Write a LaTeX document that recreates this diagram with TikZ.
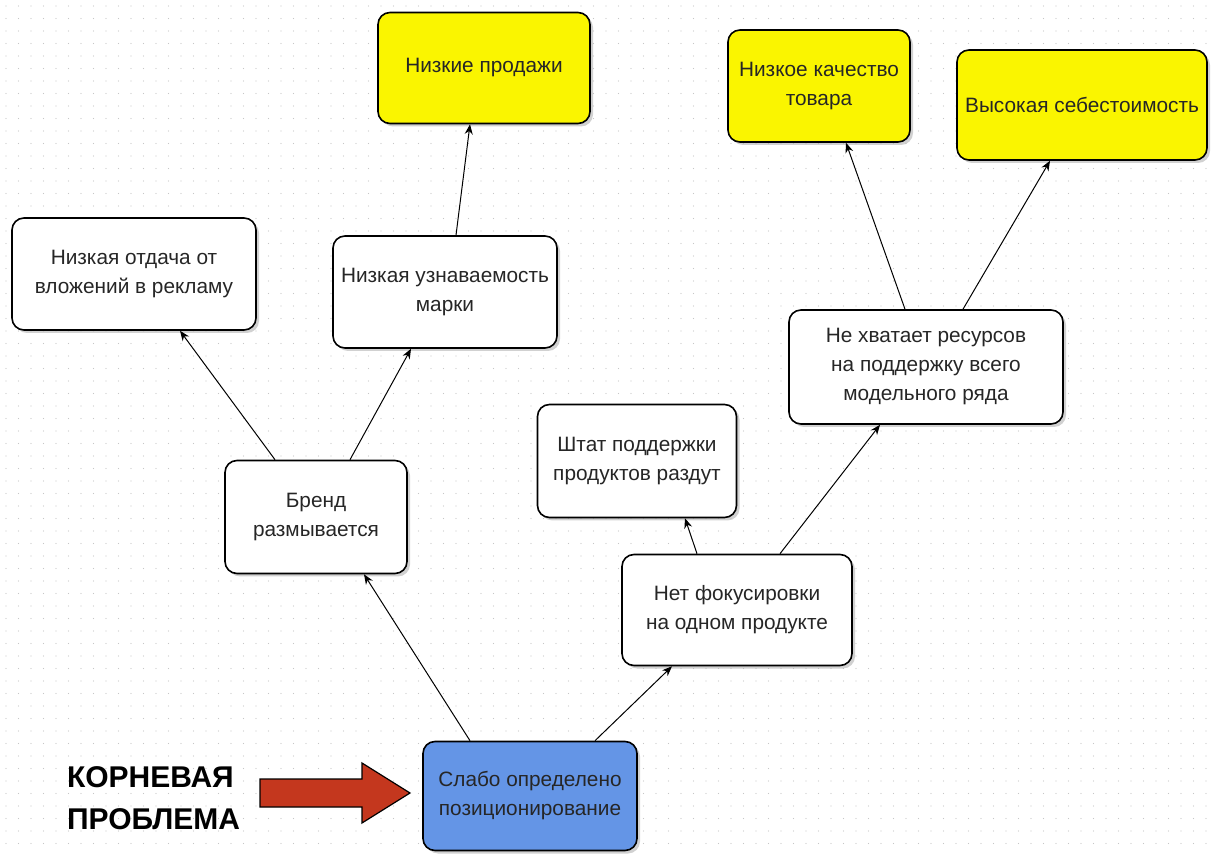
\documentclass[tikz,border=0pt]{standalone}
\usepackage{fontspec}
\setmainfont{Liberation Sans}
\usepackage{xcolor}
\usetikzlibrary{shapes,arrows.meta,positioning,calc,shadows}
\definecolor{rootblue}{RGB}{100,149,230}
\definecolor{goalyellow}{RGB}{250,245,0}
\definecolor{pointerred}{RGB}{196,55,30}

\begin{document}
\begin{tikzpicture}[x=0.5pt,y=-0.5pt,
    box/.style={draw, line width=0.8pt, rounded corners=6pt, fill=white, align=center,
        text=black!85, font=\fontsize{10.4}{14.5}\selectfont, inner sep=2pt,
        drop shadow={shadow xshift=1.5pt, shadow yshift=-1.5pt, fill=black!30, opacity=0.6}},
    goal/.style={box, fill=goalyellow},
    rootbox/.style={box, fill=rootblue},
    link/.style={-{Stealth[length=5pt,width=4pt]}, line width=0.5pt}]
    \useasboundingbox (0,0) rectangle (1211,855);
    % background dots
    \foreach \i in {0,...,96}
        \foreach \j in {0,...,68}
            \fill[black!22] (6+\i*12.5,6+\j*12.5) circle (0.35pt);

    % top level effects
    \node[goal, minimum width=106pt, minimum height=55.5pt] (sales) at (484,68) {Низкие продажи};
    \node[goal, minimum width=91pt, minimum height=56pt] (quality) at (819,86) {Низкое качество\\товара};
    \node[goal, minimum width=125pt, minimum height=55pt] (cost) at (1082,105) {Высокая себестоимость};

    % intermediate effects
    \node[box, minimum width=122pt, minimum height=56pt] (returns) at (134,274) {Низкая отдача от\\вложений в рекламу};
    \node[box, minimum width=112pt, minimum height=56pt] (aware) at (445,292) {Низкая узнаваемость\\марки};
    \node[box, minimum width=137pt, minimum height=57pt] (resources) at (926,367) {Не хватает ресурсов\\на поддержку всего\\модельного ряда};
    \node[box, minimum width=99.5pt, minimum height=56.5pt] (staff) at (637,461) {Штат поддержки\\продуктов раздут};
    \node[box, minimum width=91pt, minimum height=56.5pt] (brand) at (316,517) {Бренд\\размывается};
    \node[box, minimum width=115pt, minimum height=55.5pt] (focus) at (737,610) {Нет фокусировки\\на одном продукте};

    % root cause
    \node[rootbox, minimum width=107pt, minimum height=54.5pt] (root) at (530,796) {Слабо определено\\позиционирование};

    % connectors
    \draw[link] ([xshift=-30pt]root.north) -- ([xshift=24pt]brand.south);
    \draw[link] ([xshift=32.5pt]root.north) -- ([xshift=-32.5pt]focus.south);
    \draw[link] ([xshift=-20.5pt]brand.north) -- ([xshift=23pt]returns.south);
    \draw[link] ([xshift=17pt]brand.north) -- ([xshift=-17pt]aware.south);
    \draw[link] ([xshift=5.5pt]aware.north) -- ([xshift=-7pt]sales.south);
    \draw[link] ([xshift=-20pt]focus.north) -- ([xshift=24pt]staff.south);
    \draw[link] ([xshift=21.5pt]focus.north) -- ([xshift=-23pt]resources.south);
    \draw[link] ([xshift=-10.5pt]resources.north) -- ([xshift=13.5pt]quality.south);
    \draw[link] ([xshift=18.5pt]resources.north) -- ([xshift=-16pt]cost.south);

    % label and pointer
    \node[anchor=west, align=left, font=\bfseries\fontsize{15}{21}\selectfont] (rootlabel) at (60,798) {КОРНЕВАЯ\\ПРОБЛЕМА};
    \draw[fill=pointerred, line width=0.6pt] (260,779) -- (362,779) -- (362,763) -- (410,793)
        -- (362,823) -- (362,807) -- (260,807) -- cycle;
\end{tikzpicture}
\end{document}
